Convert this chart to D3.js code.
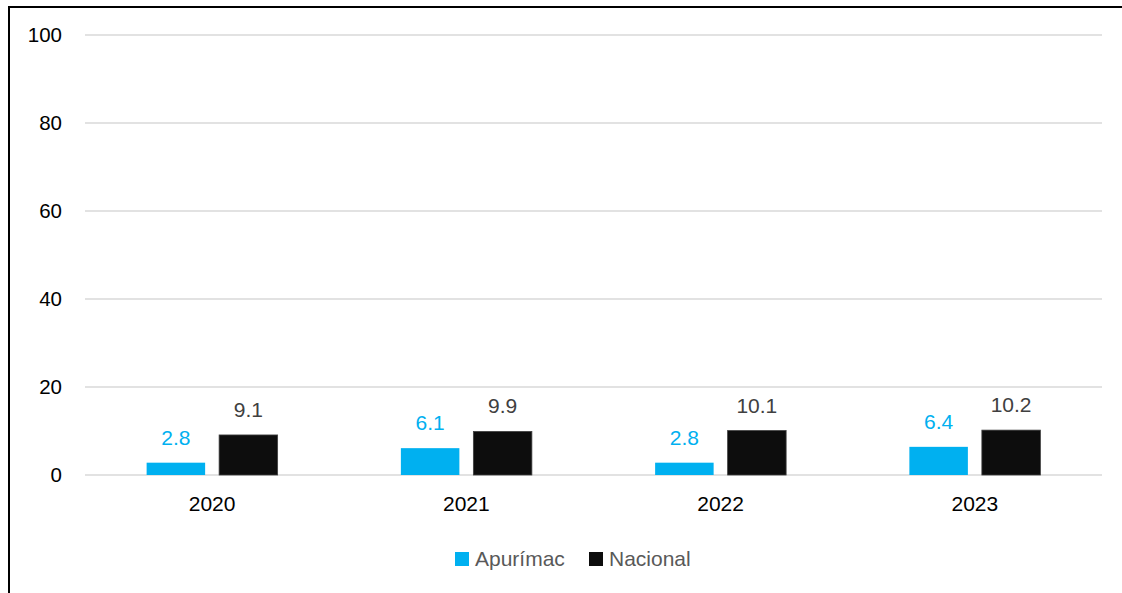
<!DOCTYPE html>
<html>
<head>
<meta charset="utf-8">
<script src="https://cdn.jsdelivr.net/npm/d3@7"></script>
<style>
  html, body { margin: 0; padding: 0; background: #fff; }
  svg { display: block; font-family: "Liberation Sans", Arial, sans-serif; }
</style>
</head>
<body>
<svg id="chart" width="1122" height="593"></svg>
<script>
const categories = ["2020", "2021", "2022", "2023"];
const seriesNames = ["Apurímac", "Nacional"];
const apurimacValues = [2.8, 6.1, 2.8, 6.4];
const nacionalValues = [9.1, 9.9, 10.1, 10.2];
const yTicks = [0, 20, 40, 60, 80, 100];
const colors = ["#00B0F0", "#0D0D0D"];
const labelColors = ["#00B0F0", "#404040"];

const seriesValues = [apurimacValues, nacionalValues];
const svg = d3.select("#chart");

// frame (only top and left edges are visible in the picture)
svg.append("rect")
  .attr("x", 9).attr("y", 7)
  .attr("width", 1200).attr("height", 700)
  .attr("fill", "none").attr("stroke", "#000").attr("stroke-width", 2);

const plotLeft = 85, plotRight = 1102;
const y = d3.scaleLinear().domain([0, 100]).range([475, 35]);
const x0 = d3.scaleBand().domain(categories).range([plotLeft, plotRight]).padding(0);
const groupW = 131;
const x1 = d3.scaleBand().domain(seriesNames).range([-groupW / 2, groupW / 2])
  .paddingInner(0.193).paddingOuter(0);

// gridlines
svg.append("g").selectAll("line").data(yTicks).join("line")
  .attr("x1", plotLeft).attr("x2", plotRight)
  .attr("y1", d => y(d)).attr("y2", d => y(d))
  .attr("stroke", "#D9D9D9").attr("stroke-width", 1.3);

// y axis labels
const yAxis = d3.axisLeft(y).tickValues(yTicks).tickSize(0).tickPadding(0);
const gy = svg.append("g").attr("transform", "translate(62,0)").call(yAxis);
gy.select(".domain").remove();
gy.selectAll("text")
  .attr("font-size", 20.5).attr("fill", "#000")
  .attr("font-family", "Liberation Sans, Arial, sans-serif");

// x axis labels
const xAxis = d3.axisBottom(x0).tickSize(0).tickPadding(0);
const gx = svg.append("g").attr("transform", "translate(0,496)").call(xAxis);
gx.select(".domain").remove();
gx.selectAll("text")
  .attr("font-size", 21).attr("fill", "#000").attr("dy", "0.71em")
  .attr("font-family", "Liberation Sans, Arial, sans-serif");

// bars
const rows = [];
categories.forEach((c, i) => {
  seriesNames.forEach((s, j) => rows.push({ cat: c, series: s, j, value: seriesValues[j][i] }));
});

const bars = svg.append("g");
bars.selectAll("rect").data(rows).join("rect")
  .attr("x", d => x0(d.cat) + x0.bandwidth() / 2 + x1(d.series))
  .attr("width", x1.bandwidth())
  .attr("y", d => y(d.value))
  .attr("height", d => y(0) - y(d.value))
  .attr("fill", d => colors[d.j])
  .attr("stroke", d => d.j === 1 ? "#404040" : "none")
  .attr("stroke-width", d => d.j === 1 ? 0.8 : 0);

// value labels
svg.append("g").selectAll("text").data(rows).join("text")
  .attr("x", d => x0(d.cat) + x0.bandwidth() / 2 + x1(d.series) + x1.bandwidth() / 2)
  .attr("y", d => y(d.value) - 18)
  .attr("text-anchor", "middle")
  .attr("font-size", 21)
  .attr("fill", d => labelColors[d.j])
  .text(d => d.value.toFixed(1));

// legend
const legendItems = [
  { name: seriesNames[0], x: 455, color: colors[0] },
  { name: seriesNames[1], x: 589, color: colors[1] }
];
const lg = svg.append("g");
legendItems.forEach(it => {
  lg.append("rect").attr("x", it.x).attr("y", 552).attr("width", 14).attr("height", 14)
    .attr("fill", it.color);
  lg.append("text").attr("x", it.x + 20).attr("y", 566)
    .attr("font-size", 21).attr("fill", "#595959").text(it.name);
});
</script>
</body>
</html>
